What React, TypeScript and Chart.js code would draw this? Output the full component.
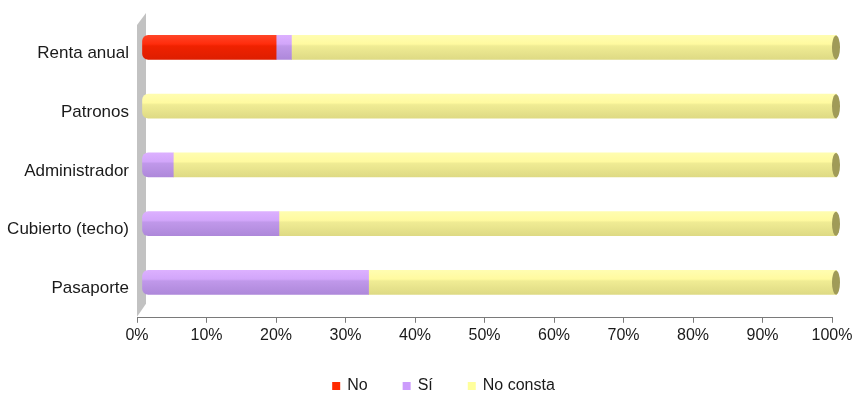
import React, { useEffect, useRef } from "react";
import { Chart, registerables } from "chart.js";

Chart.register(...registerables);

const categories = ["Renta anual", "Patronos", "Administrador", "Cubierto (techo)", "Pasaporte"];
const seriesNames = ["No", "Sí", "No consta"];
const noValues = [19.3, 0, 0, 0, 0];
const siValues = [2.2, 0, 4.5, 19.7, 32.6];
const noConstaValues = [78.5, 100, 95.5, 80.3, 67.4];
const xTickLabels = ["0%", "10%", "20%", "30%", "40%", "50%", "60%", "70%", "80%", "90%", "100%"];

const allSeries = [noValues, siValues, noConstaValues];

const FONT = '"Liberation Sans", Arial, sans-serif';
const TEXT = "#1a1a1a";
const legendColors = ["#ff2a00", "#cc9cfc", "#ffff9c"];
const gradStops = [
  ["#ff4426", "#ff2c0c", "#f02200", "#de1e00"],
  ["#dcb0ff", "#d2a6fa", "#c098ea", "#ae88da"],
  ["#fffdb0", "#fffaa0", "#f0ec94", "#deda84"],
];
const capColors = ["#b01800", "#8a66b0", "#a09b58"];

const BAR = 24;
const SHIFT_X = 5;
const SHIFT_Y = -6;

function makeGradient(di: number) {
  return (ctx: any) => {
    const stops = gradStops[di];
    const chart = ctx.chart;
    if (ctx.type === "data" && !(ctx.raw > 0)) return "rgba(0,0,0,0)";
    const y = chart.scales && chart.scales.y;
    if (!y || ctx.type !== "data") return stops[1];
    const c = y.getPixelForValue(ctx.dataIndex);
    if (!isFinite(c)) return stops[1];
    const g = chart.ctx.createLinearGradient(0, c - BAR / 2, 0, c + BAR / 2);
    g.addColorStop(0, stops[0]);
    g.addColorStop(0.36, stops[1]);
    g.addColorStop(0.44, stops[2]);
    g.addColorStop(1, stops[3]);
    return g;
  };
}

function radiusFor(ctx: any) {
  const i = ctx.dataIndex;
  const d = ctx.datasetIndex;
  let first = -1;
  for (let s = 0; s < allSeries.length; s++) {
    if (allSeries[s][i] > 0) { first = s; break; }
  }
  const r = 6;
  const isFirst = d === first;
  return { topLeft: isFirst ? r : 0, bottomLeft: isFirst ? r : 0, topRight: 0, bottomRight: 0 };
}

const depthPlugin = {
  id: "depth",
  beforeDatasetsDraw(chart: any) {
    const { ctx, chartArea } = chart;
    const L = chartArea.left;
    const T = chartArea.top;
    const B = chartArea.bottom;
    ctx.save();
    ctx.fillStyle = "#c2c2c2";
    ctx.beginPath();
    ctx.moveTo(L, T + 1);
    ctx.lineTo(L + 9, T - 11);
    ctx.lineTo(L + 9, B - 14);
    ctx.lineTo(L, B - 1);
    ctx.closePath();
    ctx.fill();
    ctx.restore();
    ctx.save();
    ctx.translate(SHIFT_X, SHIFT_Y);
  },
  afterDatasetsDraw(chart: any) {
    const { ctx } = chart;
    const n = chart.data.labels.length;
    for (let i = 0; i < n; i++) {
      let last = -1;
      for (let s = allSeries.length - 1; s >= 0; s--) {
        if (allSeries[s][i] > 0) { last = s; break; }
      }
      if (last < 0) continue;
      const el = chart.getDatasetMeta(last).data[i];
      if (!el) continue;
      ctx.save();
      ctx.fillStyle = capColors[last];
      ctx.beginPath();
      ctx.ellipse(el.x - 1, el.y, 4, BAR / 2, 0, 0, Math.PI * 2);
      ctx.fill();
      ctx.restore();
    }
    ctx.restore();
  },
};

const legendPlugin = {
  id: "customLegend",
  afterDraw(chart: any) {
    const { ctx } = chart;
    ctx.save();
    ctx.font = "16px " + FONT;
    ctx.textBaseline = "alphabetic";
    ctx.textAlign = "left";
    const box = 8;
    const gap = 7;
    const pad = 35;
    const widths = chart.data.datasets.map((d: any) => box + gap + ctx.measureText(d.label).width);
    const total = widths.reduce((a: number, b: number) => a + b, 0) + pad * (widths.length - 1);
    let x = (chart.width - total) / 2 + 17;
    const base = chart.height - 3;
    chart.data.datasets.forEach((d: any, i: number) => {
      ctx.fillStyle = legendColors[i];
      ctx.fillRect(x, base - box, box, box);
      ctx.fillStyle = TEXT;
      ctx.fillText(d.label, x + box + gap, base);
      x += widths[i] + pad;
    });
    ctx.restore();
  },
};

export default function App() {
  const ref = useRef<HTMLCanvasElement | null>(null);

  useEffect(() => {
    document.body.style.margin = "0";
    const canvas = ref.current;
    if (!canvas) return;
    const chart = new Chart(canvas, {
      type: "bar",
      data: {
        labels: categories,
        datasets: allSeries.map((vals, di) => ({
          label: seriesNames[di],
          data: vals,
          backgroundColor: makeGradient(di),
          borderWidth: 0,
          borderSkipped: false,
          borderRadius: radiusFor,
          barThickness: BAR,
        })),
      },
      options: {
        indexAxis: "y",
        responsive: false,
        animation: false,
        layout: { padding: { top: 24, right: 21, bottom: 45, left: 0 } },
        plugins: {
          legend: { display: false },
          tooltip: { enabled: false },
        },
        scales: {
          x: {
            stacked: true,
            min: 0,
            max: 100,
            ticks: {
              stepSize: 10,
              font: { size: 16, family: FONT },
              color: TEXT,
              padding: 3,
              maxRotation: 0,
              callback: (_v: any, i: number) => xTickLabels[i],
            },
            grid: { drawOnChartArea: false, drawTicks: true, tickLength: 5, color: "#7a7a7a" },
            border: { display: true, color: "#7a7a7a", width: 1 },
            afterFit: (scale: any) => {
              scale.paddingLeft = 0;
              scale.paddingRight = 0;
            },
          },
          y: {
            stacked: true,
            ticks: {
              font: { size: 17, family: FONT },
              color: TEXT,
              padding: 8,
            },
            grid: { display: false, drawTicks: false },
            border: { display: false },
            afterFit: (scale: any) => {
              scale.width = 137;
            },
          },
        },
      },
      plugins: [depthPlugin, legendPlugin],
    } as any);
    return () => chart.destroy();
  }, []);

  return (
    <div style={{ width: 853, height: 393 }}>
      <canvas ref={ref} width={853} height={393} style={{ display: "block" }} />
    </div>
  );
}
